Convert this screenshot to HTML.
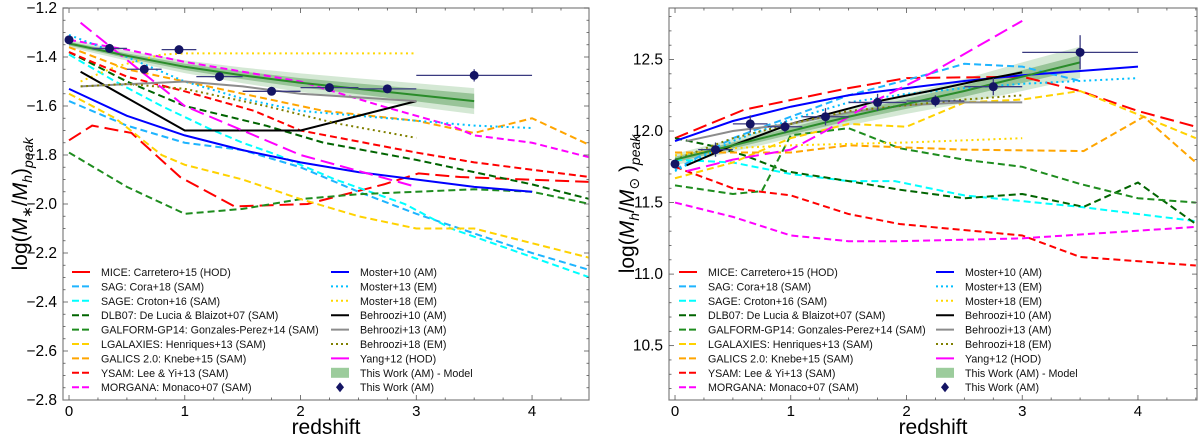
<!DOCTYPE html>
<html><head><meta charset="utf-8"><style>
html,body{margin:0;padding:0;background:#fff;}
svg{display:block;font-family:"Liberation Sans","DejaVu Sans",sans-serif;}
</style></head><body>
<svg id="fig" width="1200" height="440" viewBox="0 0 1200 440" xmlns="http://www.w3.org/2000/svg"></svg>
<script>
// ---------- data ----------
const xTicks=[0,1,2,3,4];
const leftYTicks=[-2.8,-2.6,-2.4,-2.2,-2.0,-1.8,-1.6,-1.4,-1.2];
const rightYTicks=[10.5,11.0,11.5,12.0,12.5];
const seriesNames=["MICE: Carretero+15 (HOD)","SAG: Cora+18 (SAM)","SAGE: Croton+16 (SAM)","DLB07: De Lucia & Blaizot+07 (SAM)","GALFORM-GP14: Gonzales-Perez+14 (SAM)","LGALAXIES: Henriques+13 (SAM)","GALICS 2.0: Knebe+15 (SAM)","YSAM: Lee & Yi+13 (SAM)","MORGANA: Monaco+07 (SAM)","Moster+10 (AM)","Moster+13 (EM)","Moster+18 (EM)","Behroozi+10 (AM)","Behroozi+13 (AM)","Behroozi+18 (EM)","Yang+12 (HOD)"];
const seriesColors=["#ff0000","#1eb4ff","#00ffff","#006400","#1e8c1e","#ffd200","#ffa500","#ff0000","#ff00ff","#0000ff","#00bfff","#ffd700","#000000","#8c8c8c","#808000","#ff00ff"];
const seriesStyles=["long","dash","dash","dash","dash","dash","dash","dash","dash","solid","dot","dot","solid","solid","dot","long"];
// left panel: stellar-to-halo mass ratio
const L_z=[
[0,0.2,0.54,0.96,1.43,2.06,2.72,3.02,3.38,4.5],
[0,0.5,1,1.5,2,2.5,3,3.5,4,4.5],
[0,0.4,0.8,1.2,1.5,1.8,2.3,2.9,3.3,4.5],
[0,0.5,1,1.7,2.2,3,3.5,4,4.5],
[0,0.5,1,1.5,2,2.5,3,3.5,4,4.5],
[0,0.4,0.8,1,1.5,2,2.5,3,3.5,4,4.5],
[0,0.5,1,1.7,2.2,3,3.5,4,4.5],
[0,0.5,1,1.6,2,3,3.5,4,4.5],
[0,0.5,1,2,2.7,3.3,3.5,4,4.5],
[0,0.5,1,1.5,2,2.5,3,3.5,4],
[0,0.5,1,1.5,2,3,3.5,4],
[0.1,0.4,0.8,1,2,3],
[0.1,1,2,3],
[0.1,1,1.5,2,3],
[0.1,0.5,1,1.7,2.3,3],
[0.1,0.6,1,1.5,2,3]];
const L_v=[
[-1.74,-1.68,-1.71,-1.89,-2.01,-2.0,-1.92,-1.875,-1.89,-1.91],
[-1.58,-1.68,-1.75,-1.78,-1.85,-1.95,-2.04,-2.12,-2.2,-2.27],
[-1.39,-1.5,-1.6,-1.69,-1.75,-1.8,-1.9,-2.0,-2.1,-2.3],
[-1.38,-1.5,-1.6,-1.68,-1.75,-1.82,-1.87,-1.92,-1.98],
[-1.79,-1.93,-2.04,-2.02,-1.98,-1.96,-1.95,-1.94,-1.95,-2.0],
[-1.55,-1.65,-1.8,-1.84,-1.9,-1.98,-2.05,-2.1,-2.1,-2.16,-2.22],
[-1.36,-1.45,-1.5,-1.57,-1.62,-1.66,-1.71,-1.65,-1.76],
[-1.38,-1.48,-1.54,-1.62,-1.7,-1.79,-1.83,-1.86,-1.89],
[-1.33,-1.37,-1.42,-1.5,-1.6,-1.68,-1.72,-1.75,-1.81],
[-1.53,-1.64,-1.72,-1.78,-1.83,-1.87,-1.9,-1.93,-1.95],
[-1.31,-1.4,-1.5,-1.57,-1.62,-1.66,-1.68,-1.69],
[-1.5,-1.44,-1.39,-1.385,-1.385,-1.385],
[-1.46,-1.7,-1.7,-1.58],
[-1.52,-1.5,-1.52,-1.55,-1.58],
[-1.52,-1.51,-1.53,-1.6,-1.67,-1.73],
[-1.26,-1.45,-1.6,-1.7,-1.8,-1.93]];
// right panel: peak halo mass
const R_z=[
[0,0.6,1.5,2,3,3.5,4,4.5],
[0,0.5,1,1.5,2.2,2.5,3,3.5],
[0,0.5,1,1.5,1.9,2.5,3,3.5,4.5],
[0,0.3,0.6,0.95,1.5,1.94,2.5,3,3.53,4,4.5],
[0,0.5,0.75,1,1.5,1.94,2.5,3,3.5,4,4.5],
[0,0.5,1,1.5,2,2.5,3,3.5,4.05,4.5],
[0,1,1.5,2.5,3.53,4.05,4.5],
[0,0.5,1,1.5,1.94,3,3.5,4.5],
[0,0.5,1,1.5,1.94,3,4.5],
[0,0.5,1,1.5,2,2.5,3,3.5,4],
[0,0.5,1,1.5,2,2.5,3,3.5,4],
[0,0.5,1,2,3],
[0.1,0.5,1,1.7,2.2,2.6,3],
[0.1,0.5,1,1.5,2,2.5,3],
[0,0.5,1,1.5,2,2.5,3],
[0.1,0.5,1,1.3,1.7,2.2,3]];
const R_v=[
[11.95,12.15,12.3,12.37,12.38,12.28,12.14,12.03],
[11.73,11.95,12.1,12.25,12.4,12.47,12.45,12.35],
[11.8,11.78,11.7,11.65,11.65,11.55,11.51,11.47,11.37],
[11.95,11.9,11.83,11.72,11.65,11.59,11.53,11.56,11.47,11.64,11.35],
[11.62,11.56,11.58,11.97,12.02,11.88,11.8,11.75,11.63,11.53,11.5],
[11.67,11.78,11.95,12.05,12.03,12.2,12.22,12.28,12.1,11.95],
[11.85,11.85,11.9,11.87,11.86,12.1,11.78],
[11.75,11.6,11.55,11.42,11.35,11.27,11.12,11.06],
[11.5,11.4,11.27,11.23,11.23,11.25,11.33],
[11.93,12.07,12.17,12.25,12.3,12.35,12.39,12.42,12.45],
[11.72,11.93,12.08,12.2,12.26,12.3,12.33,12.35,12.37],
[11.83,11.88,11.9,11.92,11.95],
[11.76,11.9,12.05,12.2,12.28,12.35,12.41],
[11.93,12.0,12.05,12.13,12.18,12.2,12.2],
[11.8,11.95,12.05,12.14,12.18,12.22,12.25],
[11.72,11.8,11.87,12.0,12.2,12.4,12.77]];
// this work: points and model
const pt_z=[0,0.35,0.65,0.95,1.3,1.75,2.25,2.75,3.5];
const pt_zerr=[0,0.15,0.15,0.15,0.2,0.25,0.25,0.25,0.5];
const L_pt=[-1.33,-1.365,-1.45,-1.37,-1.48,-1.54,-1.525,-1.53,-1.475];
const L_pterr=[0.005,0.01,0.015,0.01,0.01,0.01,0.01,0.01,0.025];
const R_pt=[11.77,11.87,12.05,12.03,12.1,12.2,12.21,12.31,12.55];
const R_pterr=[0.02,0.05,0.06,0.04,0.06,0.06,0.04,0.06,0.12];
const model_z=[0,0.5,1,1.5,2,2.5,3,3.5];
const L_model=[-1.345,-1.395,-1.44,-1.475,-1.505,-1.53,-1.555,-1.58];
const L_in=[0.008,0.01,0.013,0.016,0.019,0.022,0.026,0.03];
const L_out=[0.015,0.02,0.026,0.032,0.038,0.043,0.048,0.053];
const R_model=[11.8,11.9,12.0,12.1,12.19,12.28,12.38,12.48];
const R_in=[0.02,0.022,0.025,0.03,0.035,0.04,0.045,0.05];
const R_out=[0.04,0.045,0.05,0.06,0.07,0.085,0.1,0.11];

// ---------- drawing ----------
const svg=document.getElementById('fig');
const NS='http://www.w3.org/2000/svg';
function mk(tag,attrs,parent){const e=document.createElementNS(NS,tag);for(const k in attrs)e.setAttribute(k,attrs[k]);(parent||svg).appendChild(e);return e;}
const dashes={solid:'',dash:'7,4',long:'14,6',dot:'2,3.5'};
const legDashes={solid:'',dash:'7,3',long:'',dot:'2,3'};
function panel(P){
  const g=mk('g',{});
  
  
  const X=z=>P.x0+(z-P.zmin)/(P.zmax-P.zmin)*(P.x1-P.x0);
  const Y=v=>P.y1-(v-P.vmin)/(P.vmax-P.vmin)*(P.y1-P.y0);
  const clip='c'+P.name;
  const cp=mk('clipPath',{id:clip},g);mk('rect',{x:P.x0,y:P.y0,width:P.x1-P.x0,height:P.y1-P.y0},cp);
  const plot=mk('g',{'clip-path':'url(#'+clip+')'},g);
  
  
  function band(w,col,nm){
    let d='';model_z.forEach((z,i)=>{d+=(i?'L':'M')+X(z)+','+Y(P.model[i]+w[i]);});
    for(let i=model_z.length-1;i>=0;i--)d+='L'+X(model_z[i])+','+Y(P.model[i]-w[i]);
    const p=mk('path',{d:d+'Z',fill:col,stroke:'none'},plot);
    
    
  }
  band(P.out,'rgba(60,150,60,0.22)','model-band-outer');
  band(P.inn,'rgba(40,130,40,0.35)','model-band-inner');
  P.zs.forEach((zs,i)=>{
    const pts=zs.map((z,j)=>X(z)+','+Y(P.vs[i][j])).join(' ');
    const l=mk('polyline',{points:pts,fill:'none',stroke:seriesColors[i],'stroke-width':2,'stroke-dasharray':dashes[seriesStyles[i]]},plot);
    
    
  });
  const ml=mk('polyline',{points:model_z.map((z,i)=>X(z)+','+Y(P.model[i])).join(' '),fill:'none',stroke:'#2a8c2a','stroke-width':2},plot);
  
  
  pt_z.forEach((z,i)=>{
    const pg=mk('g',{},plot);
    
    
    const c='#141464';
    mk('line',{x1:X(z-pt_zerr[i]),x2:X(z+pt_zerr[i]),y1:Y(P.pt[i]),y2:Y(P.pt[i]),stroke:'#3a3a80','stroke-width':1.3},pg);
    mk('line',{x1:X(z),x2:X(z),y1:Y(P.pt[i]-P.pterr[i]),y2:Y(P.pt[i]+P.pterr[i]),stroke:'#3a3a80','stroke-width':1.3},pg);
    mk('circle',{cx:X(z),cy:Y(P.pt[i]),r:4.5,fill:c},pg);
  });
  const fr=mk('rect',{x:P.x0,y:P.y0,width:P.x1-P.x0,height:P.y1-P.y0,fill:'none',stroke:'#808080','stroke-width':1.2},g);
  
  
  for(let z=0;z<=P.zmax+1e-6;z+=0.25){
    const maj=Math.abs(z-Math.round(z))<1e-6;const L=maj?5:2.5;
    mk('line',{x1:X(z),x2:X(z),y1:P.y1,y2:P.y1-L,stroke:'#555','stroke-width':0.8},g);
    mk('line',{x1:X(z),x2:X(z),y1:P.y0,y2:P.y0+L,stroke:'#555','stroke-width':0.8},g);
  }
  xTicks.forEach(z=>{const t=mk('text',{x:X(z),y:P.y1+16,'font-size':15,'text-anchor':'middle',fill:'#000'},g);t.textContent=z;
    });
  for(let k=Math.ceil(P.vmin/P.minor);k*P.minor<=P.vmax+1e-9;k++){
    const v=k*P.minor;const maj=P.yt.some(t=>Math.abs(t-v)<1e-6);const L=maj?5:2.5;
    mk('line',{x1:P.x0,x2:P.x0+L,y1:Y(v),y2:Y(v),stroke:'#555','stroke-width':0.8},g);
    mk('line',{x1:P.x1,x2:P.x1-L,y1:Y(v),y2:Y(v),stroke:'#555','stroke-width':0.8},g);
  }
  P.yt.forEach(v=>{const t=mk('text',{x:P.x0-6,y:Y(v)+5,'font-size':15.5,'text-anchor':'end',fill:'#000'},g);
    t.textContent=(v<0?'\u2212':'')+Math.abs(v).toFixed(1);
    });
  const xt=mk('text',{x:(P.x0+P.x1)/2,y:434,'font-size':21,'text-anchor':'middle',fill:'#000'},g);
  xt.textContent='redshift';
  
  const yt=mk('text',{x:0,y:0,'font-size':21,'text-anchor':'middle',fill:'#000',transform:'translate('+P.ytx+',204) rotate(-90)'},g);
  yt.innerHTML=P.ytitle;
  
  const lg=mk('g',{},g);
  
  
  const names=seriesNames.concat(['This Work (AM) - Model','This Work (AM)']);
  names.forEach((n,i)=>{
    const col=i<9?0:1;const row=i<9?i:i-9;
    const lx=col?P.lx2:P.lx1;const ly=272+row*14.4;
    const e=mk('g',{},lg);
    
    
    if(i<16) mk('line',{x1:lx,x2:lx+18,y1:ly,y2:ly,stroke:seriesColors[i],'stroke-width':2,'stroke-dasharray':legDashes[seriesStyles[i]]},e);
    else if(i===16) mk('rect',{x:lx,y:ly-5,width:18,height:10,fill:'#9ccc9c'},e);
    else mk('path',{d:`M${lx+9},${ly-5}L${lx+13},${ly}L${lx+9},${ly+5}L${lx+5},${ly}Z`,fill:'#141464'},e);
    const t=mk('text',{x:lx+29,y:ly+4,'font-size':10.7,fill:'#111'},e);t.textContent=n;
  });
}
panel({name:'left-panel',x0:63,x1:589,y0:8,y1:400,zmin:-0.052,zmax:4.492,vmin:-2.8,vmax:-1.2,minor:0.05,yt:leftYTicks,
  zs:L_z,vs:L_v,pt:L_pt,pterr:L_pterr,model:L_model,inn:L_in,out:L_out,ytx:27,lx1:72,lx2:331,
  ytitle:'log(<tspan font-style="italic">M</tspan><tspan font-size="14" dy="5">\u2217</tspan><tspan dy="-5">/</tspan><tspan font-style="italic">M</tspan><tspan font-size="14" dy="5" font-style="italic">h</tspan><tspan dy="-5">)</tspan><tspan font-size="14" dy="6" font-style="italic">peak</tspan>'});
panel({name:'right-panel',x0:669,x1:1197,y0:8,y1:400,zmin:-0.052,zmax:4.51,vmin:10.12,vmax:12.86,minor:0.1,yt:rightYTicks,
  zs:R_z,vs:R_v,pt:R_pt,pterr:R_pterr,model:R_model,inn:R_in,out:R_out,ytx:634,lx1:679,lx2:936,
  ytitle:'log(<tspan font-style="italic">M</tspan><tspan font-size="14" dy="5" font-style="italic">h</tspan><tspan dy="-5">/</tspan><tspan font-style="italic">M</tspan><tspan font-size="14" dy="5">\u2299</tspan><tspan dy="-5"> )</tspan><tspan font-size="14" dy="6" font-style="italic">peak</tspan>'});
</script>
</body></html>
